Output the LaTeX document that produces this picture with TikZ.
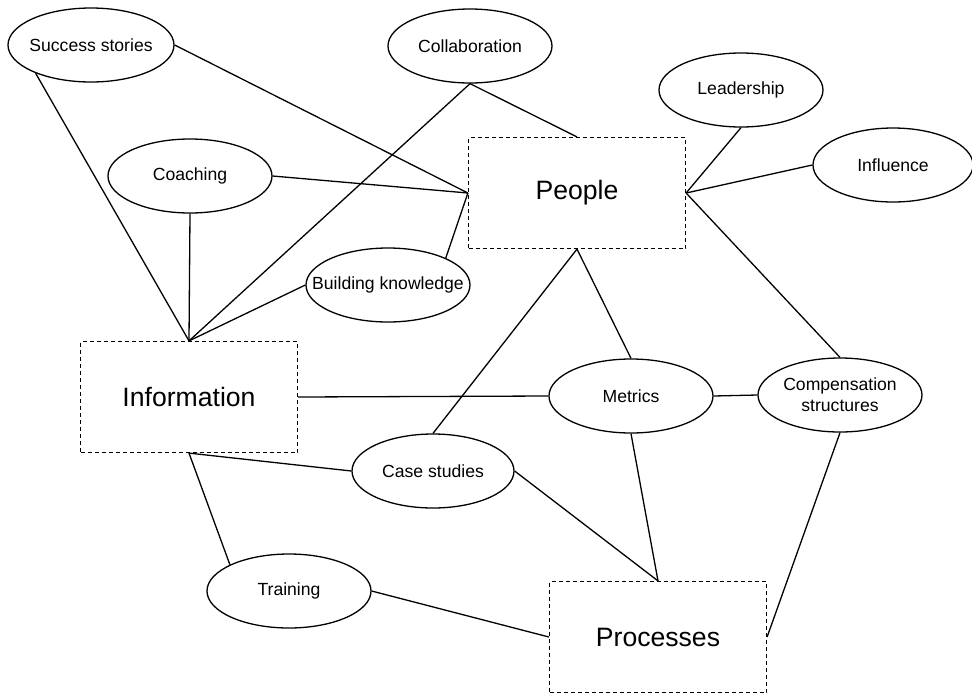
\documentclass[tikz,border=0pt]{standalone}
\usepackage{fontspec}
\setmainfont{Liberation Sans}
\usetikzlibrary{shapes.geometric}
\begin{document}
\begin{tikzpicture}[x=1pt,y=-1pt,
  topic/.style={ellipse,draw,line width=1.3pt,minimum width=164pt,minimum height=74pt,
    inner xsep=-40pt,inner ysep=-20pt,align=center,font=\fontsize{17.6}{21}\selectfont},
  area/.style={rectangle,draw,dash pattern=on 4pt off 3pt,line width=1.2pt,
    minimum width=217pt,minimum height=111pt,inner sep=0pt,font=\fontsize{26.6}{32}\selectfont},
  link/.style={line width=1.3pt}]
\useasboundingbox (0,0) rectangle (972,694);

% the three main areas
\node[area] (people) at (577,193) {People};
\node[area] (info)   at (189,397) {Information};
\node[area] (proc)   at (658,637) {Processes};

% topics
\node[topic,minimum width=166pt] (ss) at (91,45) {Success stories};
\node[topic] (collab)  at (470,46)  {Collaboration};
\node[topic] (coach)   at (190,176) {Coaching};
\node[topic] (lead)    at (741,90)  {Leadership};
\node[topic,minimum width=160pt] (infl) at (893,165) {Influence};
\node[topic] (bk)      at (388,285) {Building knowledge};
\node[topic] (metrics) at (631,396) {Metrics};
\node[topic] (comp)    at (840,395) {Compensation\\structures};
\node[topic,minimum width=162pt] (case) at (433,471) {Case studies};
\node[topic] (train)   at (289,591) {Training};

% connections
\draw[link] (ss.east) -- (people.west);
\draw[link] (ss.207) -- (info.north);
\draw[link] (coach.east) -- (people.west);
\draw[link] (coach.south) -- (info.north);
\draw[link] (collab.south) -- (people.north);
\draw[link] (collab.south) -- (info.north);
\draw[link] (bk.25) -- (people.west);
\draw[link] (bk.west) -- (info.north);
\draw[link] (people.east) -- (lead.south);
\draw[link] (people.east) -- (infl.west);
\draw[link] (people.east) -- (comp.north);
\draw[link] (people.south) -- (metrics.north);
\draw[link] (people.south) -- (case.north);
\draw[link] (info.east) -- (metrics.west);
\draw[link] (metrics.east) -- (comp.west);
\draw[link] (info.south) -- (case.west);
\draw[link] (info.south) -- (train.156);
\draw[link] (case.east) -- (proc.north);
\draw[link] (metrics.south) -- (proc.north);
\draw[link] (comp.south) -- (proc.east);
\draw[link] (train.east) -- (proc.west);
\end{tikzpicture}
\end{document}
